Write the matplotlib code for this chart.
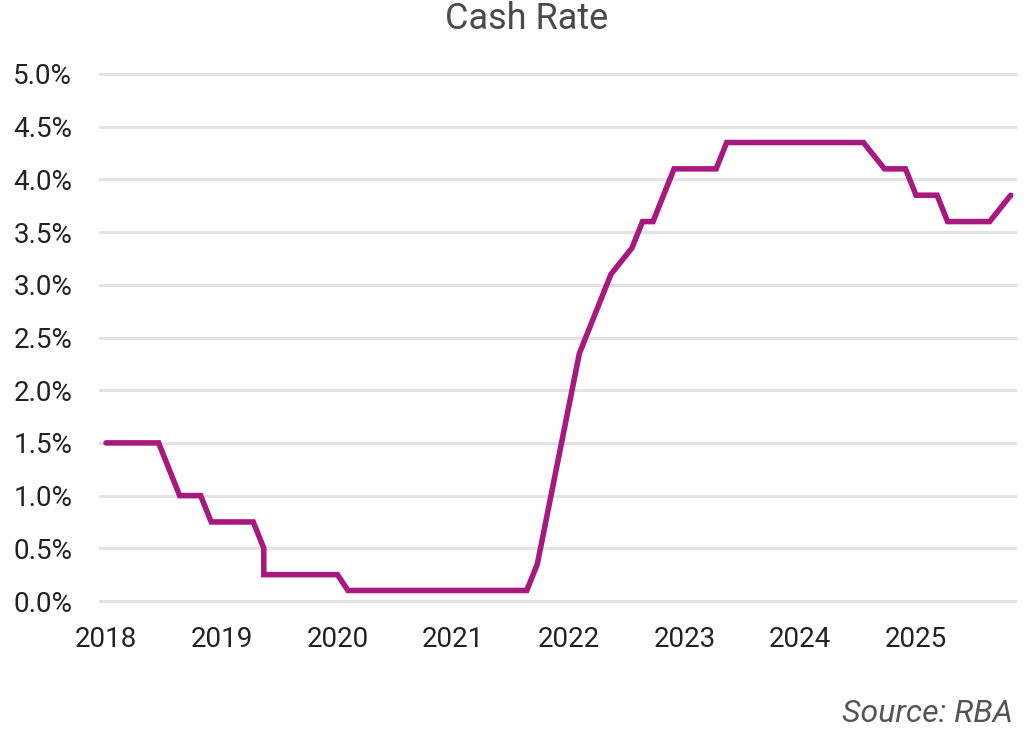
import matplotlib
matplotlib.use("Agg")
import matplotlib.pyplot as plt
import pandas as pd

# ---- data (monthly, Dec 2018 .. Feb 2026; Mar 2020 appears twice) ----
months = (["2018-12"] + [f"2019-{m:02d}" for m in range(1, 13)]
          + ["2020-01", "2020-02", "2020-03", "2020-03"]
          + [f"2020-{m:02d}" for m in range(4, 13)]
          + [f"2021-{m:02d}" for m in range(1, 13)]
          + [f"2022-{m:02d}" for m in range(1, 13)]
          + [f"2023-{m:02d}" for m in range(1, 13)]
          + [f"2024-{m:02d}" for m in range(1, 13)]
          + [f"2025-{m:02d}" for m in range(1, 13)]
          + ["2026-01", "2026-02"])
cash_rate = ([1.5] * 6 + [1.25] + [1.0] * 3 + [0.75] * 5 + [0.5, 0.25]
             + [0.25] * 7 + [0.1] * 18
             + [0.35, 0.85, 1.35, 1.85, 2.35, 2.6, 2.85, 3.1]
             + [3.225, 3.35, 3.6, 3.6, 3.85, 4.1] + [4.1] * 4
             + [4.35] * 14 + [4.225] + [4.1] * 3 + [3.85] * 3
             + [3.6] * 5 + [3.725, 3.85])
y_ticks = [0.0, 0.5, 1.0, 1.5, 2.0, 2.5, 3.0, 3.5, 4.0, 4.5, 5.0]
tick_every = 11  # months between x-axis labels

per = pd.PeriodIndex(months, freq="M")
x = [(p - per[0]).n for p in per]
tick_pos = list(range(0, x[-1] + 1, tick_every))
tick_lab = [str((per[0] + t).year) for t in tick_pos]

plt.rcParams['font.family'] = ['Roboto', 'DejaVu Sans']

W, H = 1028, 736
PX = 10.52
fig = plt.figure(figsize=(W / 100, H / 100), dpi=100)
ax = fig.add_axes([100 / W, 1 - 601 / H, 915 / W, (601 - 74) / H])

ax.plot(x, cash_rate, color="#A8197F", lw=4.0, solid_joinstyle="miter",
        solid_capstyle="round", zorder=3)

ax.set_ylim(0, 5.0)
ax.set_xlim(-6 / PX, 909 / PX)
ax.set_yticks(y_ticks)
ax.set_yticklabels([f"{v:.1f}%" for v in y_ticks])
ax.set_xticks(tick_pos)
ax.set_xticklabels(tick_lab)
for s in ax.spines.values():
    s.set_visible(False)
ax.grid(axis="y", color="#E3E3E3", lw=2.2, zorder=0)
for gl in ax.get_ygridlines():
    gl.set_clip_on(False)
ax.tick_params(axis="both", length=0, labelsize=20, labelcolor="#222222")
ax.tick_params(axis="y", pad=20)
ax.tick_params(axis="x", pad=18)

fig.text(527 / W, 1 - 19 / H, "Cash Rate", ha="center", va="center",
         fontsize=26, color="#4A4A4A")
fig.text(1013 / W, 1 - 713 / H, "Source: RBA", ha="right", va="center",
         fontsize=23, color="#555555", style="italic")

fig.savefig("out.png", dpi=100)
